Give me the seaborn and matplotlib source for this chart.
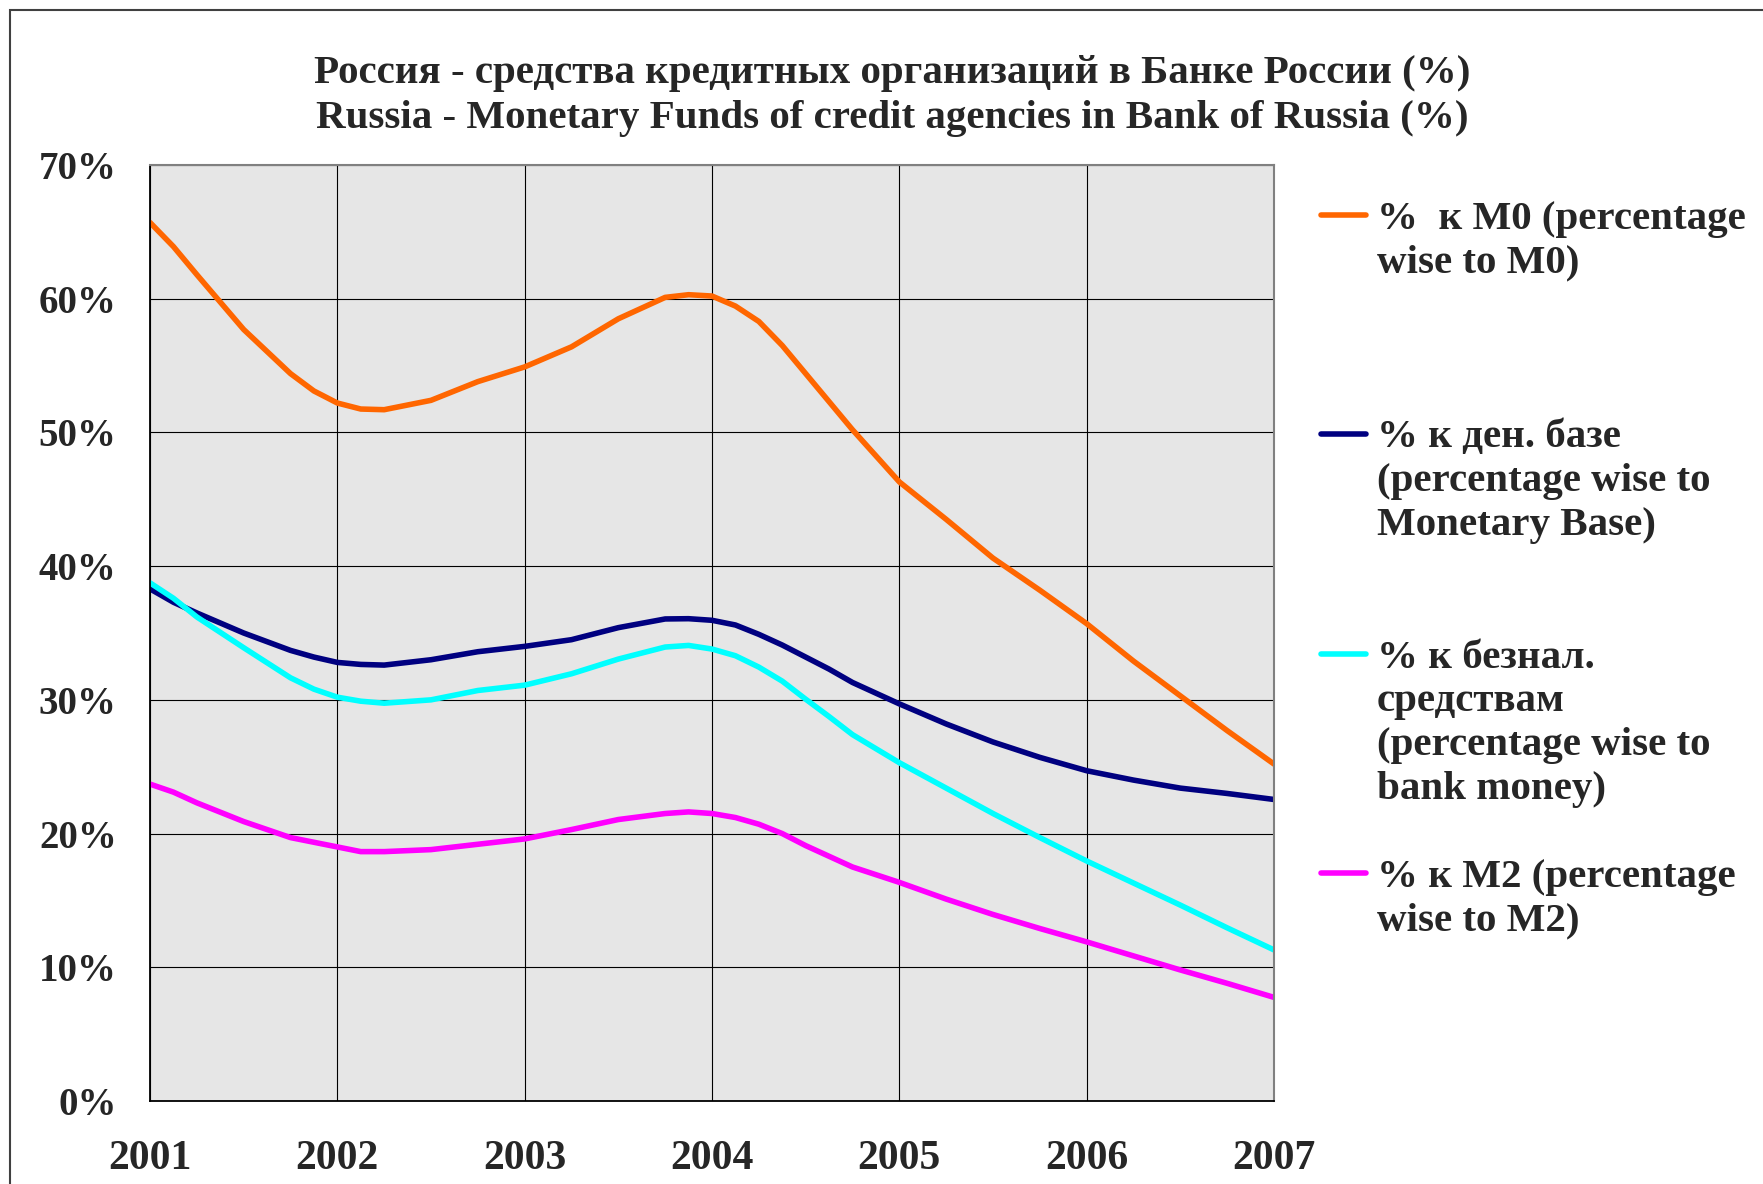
import matplotlib
matplotlib.use("Agg")
import pandas as pd
import seaborn as sns
from matplotlib import pyplot as plt
from matplotlib.lines import Line2D
from matplotlib.patches import Rectangle
from matplotlib.ticker import FuncFormatter, MultipleLocator

# readings, % of each aggregate (denser where the curves bend)
years = [2001.000, 2001.125, 2001.250, 2001.500, 2001.750, 2001.875,
         2002.000, 2002.125, 2002.250, 2002.500, 2002.750,
         2003.000, 2003.250, 2003.500, 2003.750, 2003.875,
         2004.000, 2004.125, 2004.250, 2004.375, 2004.500, 2004.625, 2004.750,
         2005.000, 2005.250, 2005.500, 2005.750,
         2006.000, 2006.250, 2006.500, 2006.750, 2007.000]
m0 = [65.7, 63.9, 61.8, 57.7, 54.4, 53.1,
      52.2, 51.75, 51.7, 52.4, 53.8,
      54.9, 56.4, 58.5, 60.1, 60.3,
      60.2, 59.45, 58.3, 56.5, 54.4, 52.3, 50.2,
      46.3, 43.5, 40.6, 38.2,
      35.7, 32.9, 30.3, 27.7, 25.2]
base = [38.3, 37.3, 36.5, 35.0, 33.7, 33.2,
        32.8, 32.65, 32.6, 33.0, 33.6,
        34.0, 34.5, 35.4, 36.05, 36.07,
        35.95, 35.6, 34.9, 34.1, 33.2, 32.3, 31.3,
        29.7, 28.2, 26.85, 25.7,
        24.7, 24.0, 23.4, 23.0, 22.55]
beznal = [38.75, 37.6, 36.2, 33.9, 31.65, 30.8,
          30.2, 29.9, 29.75, 30.0, 30.7,
          31.1, 31.95, 33.05, 33.95, 34.07,
          33.8, 33.3, 32.45, 31.4, 30.05, 28.75, 27.4,
          25.3, 23.4, 21.5, 19.7,
          17.95, 16.3, 14.65, 12.95, 11.3]
m2 = [23.7, 23.1, 22.3, 20.9, 19.7, 19.35,
      19.0, 18.65, 18.65, 18.8, 19.2,
      19.6, 20.3, 21.05, 21.5, 21.62,
      21.5, 21.2, 20.7, 20.0, 19.1, 18.3, 17.5,
      16.35, 15.1, 13.95, 12.9,
      11.9, 10.85, 9.8, 8.8, 7.75]

series_names = [
    "%  к М0 (percentage\nwise to M0)",
    "% к ден. базе\n(percentage wise to\nMonetary Base)",
    "% к безнал.\nсредствам\n(percentage wise to\nbank money)",
    "% к М2 (percentage\nwise to M2)",
]
colors = ["#FF6600", "#000080", "#00FFFF", "#FF00FF"]
year_ticks = [2001, 2002, 2003, 2004, 2005, 2006, 2007]

title = ("Россия - средства кредитных организаций в Банке России (%)\n"
         "Russia - Monetary Funds of credit agencies in Bank of Russia (%)")

frames = []
for name, vals in zip(series_names, [m0, base, beznal, m2]):
    frames.append(pd.DataFrame({"year": years, "value": vals, "series": name}))
df = pd.concat(frames, ignore_index=True)

sns.set_style("white")
plt.rcParams["font.family"] = ["Liberation Serif", "DejaVu Serif"]
plt.rcParams["font.weight"] = "bold"

W, H = 1763, 1184
fig = plt.figure(figsize=(W / 100, H / 100), dpi=100)
ax = fig.add_axes([150 / W, 1 - 1101 / H, (1274 - 150) / W, (1101 - 165) / H])

ax.set_facecolor("#e6e6e6")
sns.lineplot(data=df, x="year", y="value", hue="series",
             palette=dict(zip(series_names, colors)), linewidth=4.0,
             legend=False, ax=ax)

ax.set_xlim(2001, 2007)
ax.set_ylim(0, 70)
ax.set_xticks(year_ticks)
ax.set_xticklabels([str(y) for y in year_ticks])
ax.yaxis.set_major_locator(MultipleLocator(10))
ax.yaxis.set_major_formatter(FuncFormatter(lambda v, p: f"{v:.0f}%"))
ax.set_xlabel("")
ax.set_ylabel("")
ax.grid(True, color="black", linewidth=0.8)
ax.tick_params(axis="x", direction="out", length=9, width=0.8,
               color="black", pad=19, labelsize=30)
ax.tick_params(axis="y", direction="out", length=9, width=0.8,
               color="black", pad=15, labelsize=28)
for lab in ax.get_xticklabels() + ax.get_yticklabels():
    lab.set_fontweight("bold")
for side in ["left", "bottom"]:
    ax.spines[side].set_color("black")
    ax.spines[side].set_linewidth(1.3)
for side in ["top", "right"]:
    ax.spines[side].set_color("#808080")
    ax.spines[side].set_linewidth(1.5)

fig.text(892 / W, 1 - 96 / H, title, ha="center", va="center",
         fontsize=29.5, fontweight="bold", linespacing=1.32)

# legend drawn by hand so entries sit at equal spacing like the original
entry_y = [219, 438, 658, 877]
line_step = 44
for name, c, y0 in zip(series_names, colors, entry_y):
    fig.add_artist(Line2D([1321 / W, 1366 / W], [1 - (y0 - 4) / H] * 2,
                          transform=fig.transFigure, color=c, linewidth=4.0))
    for i, line in enumerate(name.split("\n")):
        fig.text(1377 / W, 1 - (y0 + i * line_step) / H, line,
                 ha="left", va="center", fontsize=29.5, fontweight="bold")

fig.patches.append(Rectangle((10 / W, -0.05), 1.2, 1 - 10 / H + 0.05,
                             transform=fig.transFigure, fill=False,
                             edgecolor="#404040", linewidth=1.5))

fig.savefig("out.png", dpi=100, facecolor="white")
